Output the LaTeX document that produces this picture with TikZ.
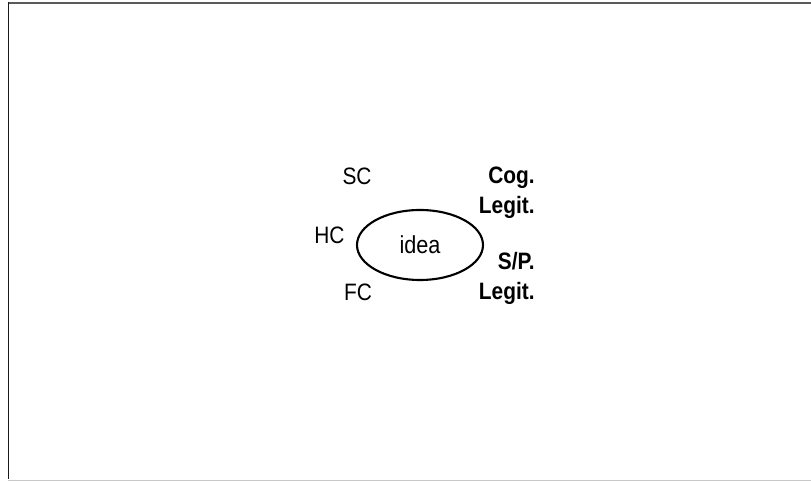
\documentclass[tikz,border=0pt]{standalone}
\usepackage{fontspec}
\setmainfont{Liberation Sans}[FakeStretch=0.88]
\usepackage{tikz}
\usetikzlibrary{shapes.geometric}
\definecolor{frametop}{HTML}{5A5A5A}
\definecolor{frameside}{HTML}{1A1A1A}
\definecolor{framebot}{HTML}{C8C8C8}

\begin{document}
\begin{tikzpicture}[
  lbl/.style={font=\fontsize{13.5}{17}\selectfont,inner sep=0pt},
  legit/.style={lbl,font=\fontsize{13.5}{17}\selectfont\bfseries,align=right,anchor=east},
  ideabox/.style={draw,ellipse,line width=1.2pt,minimum width=2.52cm,minimum height=1.4cm,inner sep=0pt,font=\fontsize{14}{16}\selectfont}
]
\useasboundingbox (0,0) rectangle (16.22,9.64);

% Slide frame
\draw[frametop,line width=1pt] (0.17,9.58) -- (16.22,9.58);
\draw[frameside,line width=1.1pt] (0.17,9.6) -- (0.17,0.06);
\draw[framebot,line width=0.8pt] (0.17,0.03) -- (16.22,0.03);

% Centre
\node[ideabox] (idea) at (8.4,4.74) {idea};

% Capital labels
\node[lbl] (sc) at (7.14,6.12) {SC};
\node[lbl] (hc) at (6.59,4.93) {HC};
\node[lbl] (fc) at (7.16,3.79) {FC};

% Legitimacy labels
\node[legit] (cog) at (10.70,5.78) {Cog.\\Legit.};
\node[legit] (sp) at (10.70,4.07) {S/P.\\Legit.};
\end{tikzpicture}
\end{document}
